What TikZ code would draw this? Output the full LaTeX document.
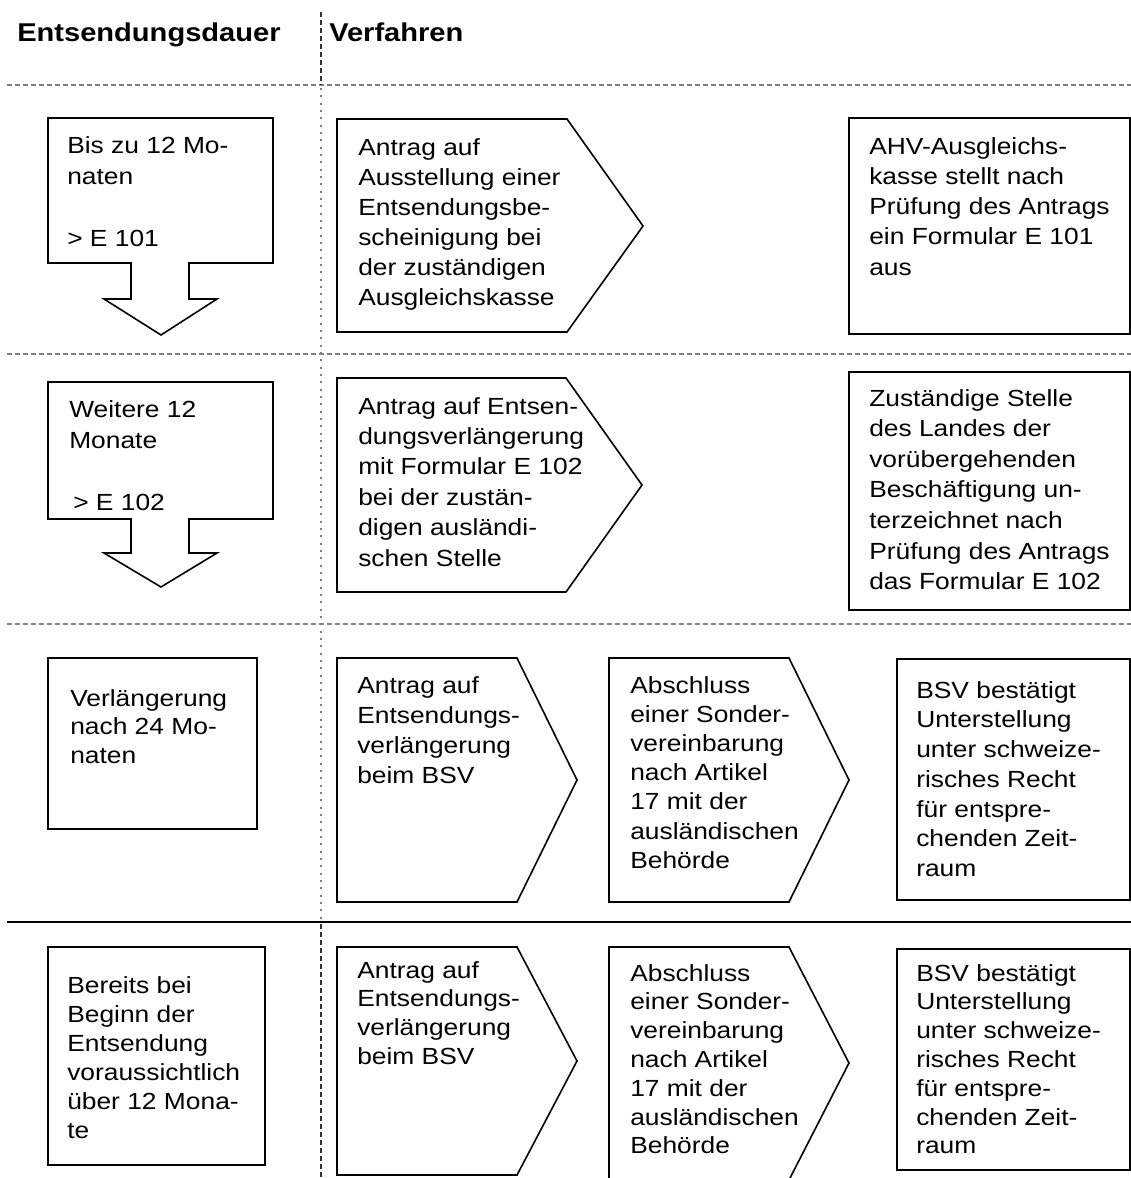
\documentclass[tikz,border=0pt]{standalone}
\usepackage{fontspec}
\setmainfont{Liberation Sans}[FakeStretch=1.13]
\definecolor{rulegrey}{RGB}{128,128,128}

\begin{document}
\begin{tikzpicture}[x=0.75pt,y=0.75pt,yscale=-1,xscale=1,
	boxline/.style={line width=1.2pt},
	hdr/.style={anchor=north west,inner sep=0pt,font=\fontsize{19.3}{23}\selectfont\bfseries},
	txt/.style={anchor=north west,inner sep=0pt,align=left,font=\fontsize{17.5}{#1}\selectfont}]
			\useasboundingbox (0,0) rectangle (1131,1178);

			%Straight Lines [id:header rule]
			\draw [rulegrey, line width=1pt, dash pattern={on 3.75pt off 2.25pt}] (7,85) -- (1131,85) ;
			%Straight Lines [id:row rule 1]
			\draw [rulegrey, line width=1pt, dash pattern={on 3.75pt off 2.25pt}] (7,354) -- (1131,354) ;
			%Straight Lines [id:row rule 2]
			\draw [rulegrey, line width=1pt, dash pattern={on 3.75pt off 2.25pt}] (7,624) -- (1131,624) ;
			%Straight Lines [id:row rule 3]
			\draw [line width=1.5pt] (7,922) -- (1131,922) ;
			%Straight Lines [id:column rule]
			\draw [black!80, line width=1pt, dash pattern={on 3.5pt off 2.5pt}] (321,12) -- (321,85) ;
			\draw [rulegrey, line width=1pt, dash pattern={on 1.5pt off 4pt}] (321,88) -- (321,920) ;
			\draw [black!80, line width=1pt, dash pattern={on 3.5pt off 2.5pt}] (321,924) -- (321,1178) ;

			%Shape: Box with down arrow [id:row 1]
			\draw [boxline] (48,118) -- (273,118) -- (273,263) -- (189,263) -- (189,299) -- (217,299) -- (161,335) -- (104,299) -- (131,299) -- (131,263) -- (48,263) -- cycle ;
			%Shape: Chevron [id:row 1]
			\draw [boxline] (337,119) -- (567,119) -- (643,226) -- (567,332) -- (337,332) -- cycle ;
			%Shape: Rectangle [id:row 1]
			\draw [boxline] (849,118) -- (1130,118) -- (1130,334) -- (849,334) -- cycle ;

			%Shape: Box with down arrow [id:row 2]
			\draw [boxline] (48,382) -- (273,382) -- (273,519) -- (189,519) -- (189,553) -- (217,553) -- (161,587) -- (104,553) -- (131,553) -- (131,519) -- (48,519) -- cycle ;
			%Shape: Chevron [id:row 2]
			\draw [boxline] (337,378) -- (566,378) -- (642,485) -- (566,592) -- (337,592) -- cycle ;
			%Shape: Rectangle [id:row 2]
			\draw [boxline] (849,372) -- (1130,372) -- (1130,610) -- (849,610) -- cycle ;

			%Shape: Rectangle [id:row 3]
			\draw [boxline] (48,658) -- (257,658) -- (257,829) -- (48,829) -- cycle ;
			%Shape: Chevron [id:row 3 a]
			\draw [boxline] (337,658) -- (517,658) -- (577,780) -- (517,902) -- (337,902) -- cycle ;
			%Shape: Chevron [id:row 3 b]
			\draw [boxline] (609,658) -- (789,658) -- (849,780) -- (789,902) -- (609,902) -- cycle ;
			%Shape: Rectangle [id:row 3 c]
			\draw [boxline] (897,659) -- (1130,659) -- (1130,900) -- (897,900) -- cycle ;

			%Shape: Rectangle [id:row 4]
			\draw [boxline] (48,947) -- (265,947) -- (265,1165) -- (48,1165) -- cycle ;
			%Shape: Chevron [id:row 4 a]
			\draw [boxline] (337,947) -- (517,947) -- (577,1061) -- (517,1175) -- (337,1175) -- cycle ;
			%Shape: Chevron [id:row 4 b]
			\draw [boxline] (609,947) -- (789,947) -- (849,1063) -- (789,1180) -- (609,1180) -- cycle ;
			%Shape: Rectangle [id:row 4 c]
			\draw [boxline] (897,949) -- (1130,949) -- (1130,1170) -- (897,1170) -- cycle ;

			% Text Node
			\draw (17,23) node (hdrdauer) [hdr] {Entsendungsdauer};
			% Text Node
			\draw (329,23) node (hdrverfahren) [hdr] {Verfahren};

			% Text Node
			\draw (67,136) node (dauerA) [txt=23.25] {Bis zu 12 Mo-\\naten\\[23.25pt]> E 101};
			% Text Node
			\draw (358,138) node (antragA) [txt=22.5] {Antrag auf\\Ausstellung einer\\Entsendungsbe-\\scheinigung bei\\der zuständigen\\Ausgleichskasse};
			% Text Node
			\draw (869,137) node (kasseA) [txt=22.7] {AHV-Ausgleichs-\\kasse stellt nach\\Prüfung des Antrags\\ein Formular E 101\\aus};

			% Text Node
			\draw (69,400) node (dauerB) [txt=23.25] {Weitere 12\\Monate\\[23.25pt]\hspace*{3pt}> E 102};
			% Text Node
			\draw (358,397) node (antragB) [txt=22.8] {Antrag auf Entsen-\\dungsverlängerung\\mit Formular E 102\\bei der zustän-\\digen ausländi-\\schen Stelle};
			% Text Node
			\draw (869,389) node (stelleB) [txt=22.95] {Zuständige Stelle\\des Landes der\\vorübergehenden\\Beschäftigung un-\\terzeichnet nach\\Prüfung des Antrags\\das Formular E 102};

			% Text Node
			\draw (70,689) node (dauerC) [txt=21.4] {Verlängerung\\nach 24 Mo-\\naten};
			% Text Node
			\draw (357,676) node (antragC) [txt=22.5] {Antrag auf\\Entsendungs-\\verlängerung\\beim BSV};
			% Text Node
			\draw (630,676) node (abschlussC) [txt=21.9] {Abschluss\\einer Sonder-\\vereinbarung\\nach Artikel\\17 mit der\\ausländischen\\Behörde};
			% Text Node
			\draw (916,681) node (bsvC) [txt=22.3] {BSV bestätigt\\Unterstellung\\unter schweize-\\risches Recht\\für entspre-\\chenden Zeit-\\raum};

			% Text Node
			\draw (67,976) node (dauerD) [txt=21.75] {Bereits bei\\Beginn der\\Entsendung\\voraussichtlich\\über 12 Mona-\\te};
			% Text Node
			\draw (357,961) node (antragD) [txt=21.5] {Antrag auf\\Entsendungs-\\verlängerung\\beim BSV};
			% Text Node
			\draw (630,964) node (abschlussD) [txt=21.6] {Abschluss\\einer Sonder-\\vereinbarung\\nach Artikel\\17 mit der\\ausländischen\\Behörde};
			% Text Node
			\draw (916,964) node (bsvD) [txt=21.6] {BSV bestätigt\\Unterstellung\\unter schweize-\\risches Recht\\für entspre-\\chenden Zeit-\\raum};

		\end{tikzpicture}
\end{document}
